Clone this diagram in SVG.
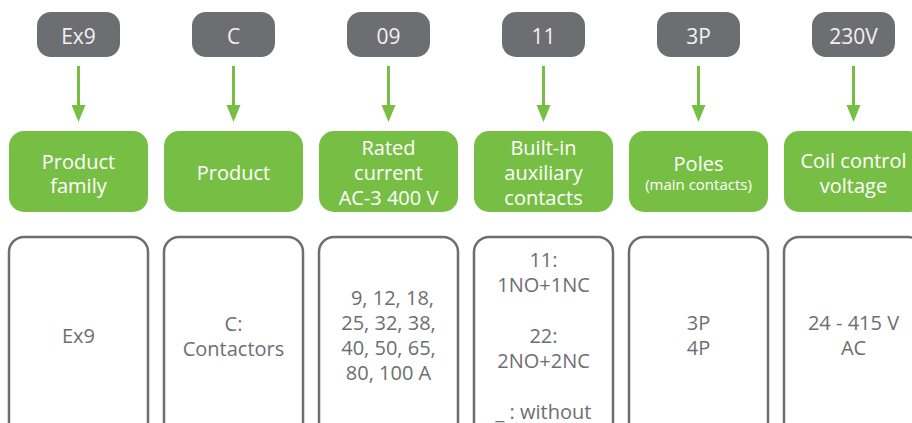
<svg xmlns="http://www.w3.org/2000/svg" width="912" height="423" viewBox="0 0 912 423">
<defs>
<style>
.pill{fill:#6d6e71}
.green{fill:#77bf44}
.out{fill:#fff;stroke:#6d6e71;stroke-width:2.5}
.pt{font-family:"Open Sans","Noto Sans",sans-serif;font-size:21px;fill:#f2f2f2;text-anchor:middle}
.gt{font-family:"Open Sans","Noto Sans",sans-serif;font-size:20px;fill:#fff;text-anchor:middle}
.gs{font-family:"Open Sans","Noto Sans",sans-serif;font-size:15px;fill:#fff;text-anchor:middle}
.ot{font-family:"Open Sans","Noto Sans",sans-serif;font-size:20px;fill:#6d6e71;text-anchor:middle}
.conn{stroke:#77bf44;stroke-width:3;fill:none}
.head{fill:#77bf44}
</style>
</defs>
<rect width="912" height="423" fill="#fff"/>
<g id="connectors">
<path class="conn" d="M78.5,66 V107"/>
<path class="head" d="M71.5,105 H85.5 L78.5,122 z"/>
<path class="conn" d="M233.5,66 V107"/>
<path class="head" d="M226.5,105 H240.5 L233.5,122 z"/>
<path class="conn" d="M388.5,66 V107"/>
<path class="head" d="M381.5,105 H395.5 L388.5,122 z"/>
<path class="conn" d="M543.5,66 V107"/>
<path class="head" d="M536.5,105 H550.5 L543.5,122 z"/>
<path class="conn" d="M698.5,66 V107"/>
<path class="head" d="M691.5,105 H705.5 L698.5,122 z"/>
<path class="conn" d="M853.5,66 V107"/>
<path class="head" d="M846.5,105 H860.5 L853.5,122 z"/>
</g>
<g id="code-ex9"><rect class="pill" x="37" y="12" width="83" height="45" rx="14"/><text class="pt" x="78.5" y="44">Ex9</text></g>
<g id="code-c"><rect class="pill" x="192" y="12" width="83" height="45" rx="14"/><text class="pt" x="233.5" y="44">C</text></g>
<g id="code-09"><rect class="pill" x="347" y="12" width="83" height="45" rx="14"/><text class="pt" x="388.5" y="44">09</text></g>
<g id="code-11"><rect class="pill" x="502" y="12" width="83" height="45" rx="14"/><text class="pt" x="543.5" y="44">11</text></g>
<g id="code-3p"><rect class="pill" x="657" y="12" width="83" height="45" rx="14"/><text class="pt" x="698.5" y="44">3P</text></g>
<g id="code-230v"><rect class="pill" x="812" y="12" width="83" height="45" rx="14"/><text class="pt" x="853.5" y="44">230V</text></g>

<g id="label-family"><rect class="green" x="9" y="131" width="139" height="81" rx="15"/><text class="gt" x="78.5" y="169">Product</text><text class="gt" x="78.5" y="193">family</text></g>
<g id="label-product"><rect class="green" x="164" y="131" width="139" height="81" rx="15"/><text class="gt" x="233.5" y="180">Product</text></g>
<g id="label-current"><rect class="green" x="319" y="131" width="139" height="81" rx="15"/><text class="gt" x="388.5" y="155">Rated</text><text class="gt" x="388.5" y="180">current</text><text class="gt" x="388.5" y="205">AC-3 400 V</text></g>
<g id="label-aux"><rect class="green" x="474" y="131" width="139" height="81" rx="15"/><text class="gt" x="543.5" y="155">Built-in</text><text class="gt" x="543.5" y="180">auxiliary</text><text class="gt" x="543.5" y="205">contacts</text></g>
<g id="label-poles"><rect class="green" x="629" y="131" width="139" height="81" rx="15"/><text class="gt" x="698.5" y="171">Poles</text><text class="gs" x="698.5" y="190">(main contacts)</text></g>
<g id="label-coil"><rect class="green" x="784" y="131" width="139" height="81" rx="15"/><text class="gt" x="853.5" y="168">Coil control</text><text class="gt" x="853.5" y="193">voltage</text></g>

<g id="value-family"><rect class="out" x="9" y="237" width="139" height="210" rx="15"/><text class="ot" x="78.5" y="343">Ex9</text></g>
<g id="value-product"><rect class="out" x="164" y="237" width="139" height="210" rx="15"/><text class="ot" x="233.5" y="331">C:</text><text class="ot" x="233.5" y="356">Contactors</text></g>
<g id="value-current"><rect class="out" x="319" y="237" width="139" height="210" rx="15"/><text class="ot" x="392.5" y="305">9, 12, 18,</text><text class="ot" x="388.5" y="330">25, 32, 38,</text><text class="ot" x="388.5" y="355">40, 50, 65,</text><text class="ot" x="388.5" y="380">80, 100 A</text></g>
<g id="value-aux"><rect class="out" x="474" y="237" width="139" height="210" rx="15"/><text class="ot" x="543.5" y="267">11:</text><text class="ot" x="543.5" y="292">1NO+1NC</text><text class="ot" x="543.5" y="343">22:</text><text class="ot" x="543.5" y="368">2NO+2NC</text><text class="ot" x="543.5" y="419">_ : without</text></g>
<g id="value-poles"><rect class="out" x="629" y="237" width="139" height="210" rx="15"/><text class="ot" x="698.5" y="330">3P</text><text class="ot" x="698.5" y="355">4P</text></g>
<g id="value-coil"><rect class="out" x="784" y="237" width="139" height="210" rx="15"/><text class="ot" x="853.5" y="330">24 - 415 V</text><text class="ot" x="853.5" y="355">AC</text></g>
</svg>
